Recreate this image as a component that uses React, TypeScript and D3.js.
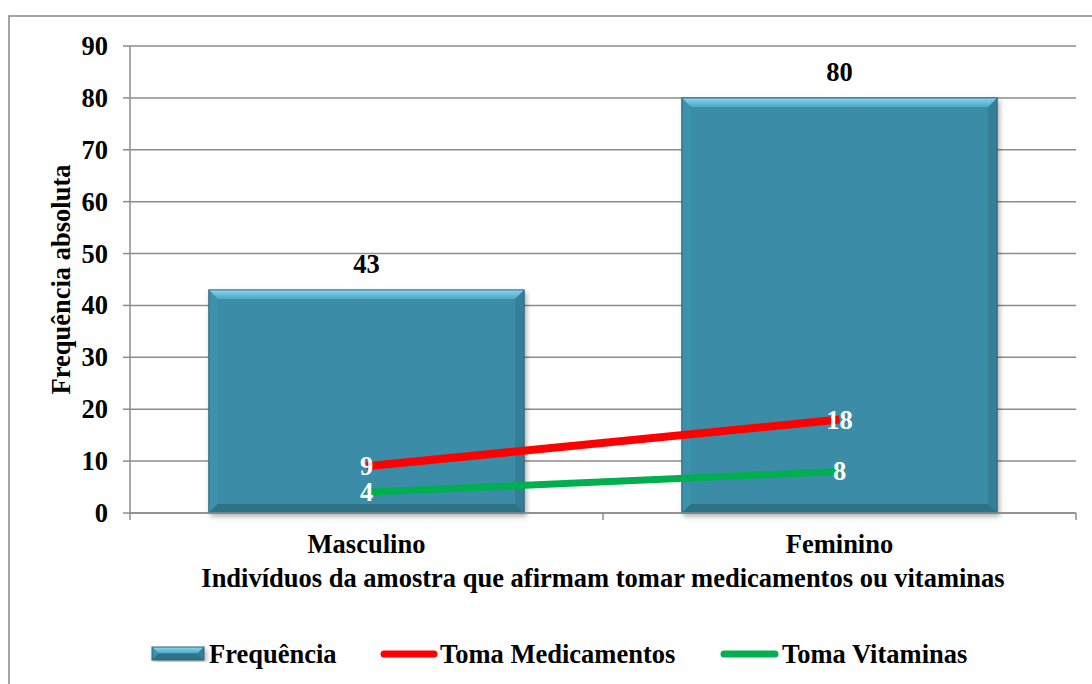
import React from "react";
import * as d3 from "d3";

// Data
const categories = ["Masculino", "Feminino"];
const frequencia = [43, 80];
const tomaMedicamentos = [9, 18];
const tomaVitaminas = [4, 8];
const yTicks = [0, 10, 20, 30, 40, 50, 60, 70, 80, 90];

const W = 1092;
const H = 684;
const plot = { left: 130, right: 1076, top: 46, bottom: 513 };
const FONT = "Liberation Serif";

const x = d3.scaleBand<string>().domain(categories).range([plot.left, plot.right]).padding(0);
const y = d3.scaleLinear().domain([0, 90]).range([plot.bottom, plot.top]);
const barW = x.bandwidth() * (2 / 3);
const cx = (c: string) => (x(c) as number) + x.bandwidth() / 2;

const line = d3
  .line<number>()
  .x((_, i) => cx(categories[i]))
  .y((d) => y(d));

const textStyle: React.CSSProperties = { fontFamily: FONT, fontWeight: 700, fontSize: 26.5 };

function BevelBar({ x0, y0, w, h }: { x0: number; y0: number; w: number; h: number }) {
  const b = Math.min(9, h / 2);
  const x1 = x0 + w;
  const y1 = y0 + h;
  return (
    <g filter="url(#barShadow)">
      <rect x={x0} y={y0} width={w} height={h} fill="#3a8ca6" />
      <polygon
        points={`${x0},${y0} ${x1},${y0} ${x1 - b},${y0 + b} ${x0 + b},${y0 + b}`}
        fill="url(#bevelTop)"
      />
      <polygon
        points={`${x0},${y0} ${x0 + b},${y0 + b} ${x0 + b},${y1 - b} ${x0},${y1}`}
        fill="#3d91ab"
      />
      <polygon
        points={`${x1},${y0} ${x1},${y1} ${x1 - b},${y1 - b} ${x1 - b},${y0 + b}`}
        fill="#337f97"
      />
      <polygon
        points={`${x0},${y1} ${x0 + b},${y1 - b} ${x1 - b},${y1 - b} ${x1},${y1}`}
        fill="#2f7288"
      />
      <rect x={x0} y={y0} width={w} height={h} fill="none" stroke="#2a6577" strokeWidth={1} />
    </g>
  );
}

export default function App() {
  return (
    <svg
      width={W}
      height={H}
      style={{ position: "absolute", left: 0, top: 0, background: "#fff", fontFamily: FONT }}
    >
      <defs>
        <linearGradient id="bevelTop" x1="0" y1="0" x2="0" y2="1">
          <stop offset="0" stopColor="#86d8f0" />
          <stop offset="1" stopColor="#4fa8c4" />
        </linearGradient>
        <filter id="barShadow" x="-5%" y="-5%" width="115%" height="115%">
          <feDropShadow dx="2" dy="3" stdDeviation="2.5" floodColor="#000" floodOpacity="0.3" />
        </filter>
      </defs>

      {/* chart border */}
      <rect x={9} y={16} width={W + 20} height={H + 20} fill="#fff" stroke="#868686" strokeWidth={1.5} />

      {/* gridlines */}
      {yTicks.map((t) => (
        <line key={t} x1={plot.left} x2={plot.right} y1={y(t)} y2={y(t)} stroke="#8c8c8c" strokeWidth={1.5} />
      ))}

      {/* y axis */}
      <line x1={plot.left} x2={plot.left} y1={plot.top} y2={plot.bottom} stroke="#8c8c8c" strokeWidth={1.5} />
      {yTicks.map((t) => (
        <g key={`yt${t}`}>
          <line x1={plot.left - 7} x2={plot.left} y1={y(t)} y2={y(t)} stroke="#8c8c8c" strokeWidth={1.5} />
          <text x={108} y={y(t) + 9} textAnchor="end" style={textStyle} fill="#000">
            {t}
          </text>
        </g>
      ))}

      {/* bars */}
      {categories.map((c, i) => (
        <BevelBar key={c} x0={cx(c) - barW / 2} y0={y(frequencia[i])} w={barW} h={y(0) - y(frequencia[i])} />
      ))}

      {/* x axis */}
      <line x1={plot.left} x2={plot.right} y1={plot.bottom} y2={plot.bottom} stroke="#8c8c8c" strokeWidth={1.5} />
      {[plot.left, ...categories.slice(1).map((c) => x(c) as number), plot.right].map((px, i) => (
        <line key={`xt${i}`} x1={px} x2={px} y1={plot.bottom} y2={plot.bottom + 7} stroke="#8c8c8c" strokeWidth={1.5} />
      ))}

      {/* bar value labels */}
      {categories.map((c, i) => (
        <text key={`bl${c}`} x={cx(c)} y={y(frequencia[i]) - 17} textAnchor="middle" style={textStyle}>
          {frequencia[i]}
        </text>
      ))}

      {/* lines */}
      <path d={line(tomaMedicamentos) || ""} fill="none" stroke="#ff0000" strokeWidth={8} />
      <path d={line(tomaVitaminas) || ""} fill="none" stroke="#00b050" strokeWidth={7} />

      {/* line value labels */}
      {categories.map((c, i) => (
        <g key={`ll${c}`}>
          <text x={cx(c)} y={y(tomaMedicamentos[i]) + 9} textAnchor="middle" style={textStyle} fill="#fff">
            {tomaMedicamentos[i]}
          </text>
          <text x={cx(c)} y={y(tomaVitaminas[i]) + 9} textAnchor="middle" style={textStyle} fill="#fff">
            {tomaVitaminas[i]}
          </text>
        </g>
      ))}

      {/* category labels */}
      {categories.map((c) => (
        <text key={`cl${c}`} x={cx(c)} y={553} textAnchor="middle" style={textStyle}>
          {c}
        </text>
      ))}

      {/* axis titles */}
      <text x={(plot.left + plot.right) / 2} y={587} textAnchor="middle" style={textStyle}>
        Indivíduos da amostra que afirmam tomar medicamentos ou vitaminas
      </text>
      <text
        transform={`translate(70, ${(plot.top + plot.bottom) / 2}) rotate(-90)`}
        textAnchor="middle"
        style={textStyle}
      >
        Frequência absoluta
      </text>

      {/* legend */}
      <g>
        <BevelBar x0={152} y0={647} w={52} h={13} />
        <text x={209} y={663} style={textStyle}>Frequência</text>
        <line x1={384} x2={434} y1={654} y2={654} stroke="#ff0000" strokeWidth={7} strokeLinecap="round" />
        <text x={440} y={663} style={textStyle}>Toma Medicamentos</text>
        <line x1={724} x2={775} y1={654} y2={654} stroke="#00b050" strokeWidth={7} strokeLinecap="round" />
        <text x={782} y={663} style={textStyle}>Toma Vitaminas</text>
      </g>
    </svg>
  );
}
